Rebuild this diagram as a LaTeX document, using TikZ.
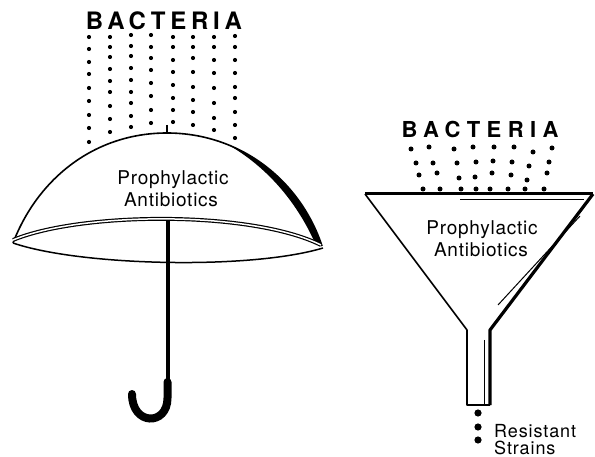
\documentclass[tikz,border=0pt]{standalone}
\usepackage{fontspec}
\setmainfont{TeX Gyre Heros}
\newfontfamily\headfontA[LetterSpace=20]{TeX Gyre Heros}
\newfontfamily\headfontB[LetterSpace=29]{TeX Gyre Heros}
\newfontfamily\labelfont[LetterSpace=4]{TeX Gyre Heros}
\newfontfamily\notefont[LetterSpace=5]{TeX Gyre Heros}
\begin{document}
\begin{tikzpicture}[x=1pt,y=-1pt,
  headA/.style={inner sep=0pt,anchor=base,font=\headfontA\bfseries\fontsize{24}{24}\selectfont},
  headB/.style={inner sep=0pt,anchor=base,font=\headfontB\bfseries\fontsize{22}{22}\selectfont},
  lbl/.style={inner sep=0pt,anchor=base,font=\labelfont\fontsize{19}{19}\selectfont},
  lblsmall/.style={inner sep=0pt,anchor=base west,font=\notefont\fontsize{18}{18}\selectfont},
  thick/.style={line width=3pt},
  germ/.style={fill=black}]
\useasboundingbox (0,0) rectangle (595,457);

% ---------------- umbrella ----------------
\node[headA] (bactL) at (164,30) {BACTERIA};
% falling bacteria
\foreach \x/\ys in {89/{37,49,62,74,88,101,115,128,142},
                    110/{37,47,57,69,81,92,106,119,132},
                    131/{35,46,56,68,80,92,103,116,127},
                    151/{35,47,58,70,83,96,110,123},
                    173/{37,47,60,72,85,98,110,122},
                    193/{37,47,58,72,87,100,112,125},
                    214/{37,47,60,73,88,103,118,130},
                    235/{36,47,60,73,87,98,112,125,138}}
  \foreach \y in \ys \fill[germ] (\x,\y) circle (2.1);

% canopy
\coordinate (rimL) at (13,243);
\coordinate (rimR) at (322,246);
\coordinate (tip) at (167,133);
\draw[line width=1.6pt] (rimL) .. controls (38,178) and (95,133) .. (tip)
  .. controls (240,133) and (300,180) .. (rimR);
% heavy shaded edge on the right of the canopy
\fill (228.5,144.9) .. controls (272.6,162.9) and (306.6,199.8) .. (322,246)
  -- (315,243) .. controls (298,205) and (270,169) .. (228.5,144.9) -- cycle;
% rim
\draw[line width=1.2pt,double=white,double distance=1.5pt]
  (13,240) .. controls (80,212) and (250,210) .. (321,245);
\draw[line width=1.5pt] (rimL) .. controls (80,266) and (250,270) .. (323,248);
% knob
\draw[line width=2pt] (167,125) -- (tip);
% shaft and handle
\coordinate (shaftTop) at (168,220);
\coordinate (shaftBot) at (168,386);
\draw[line width=4.8pt] (shaftTop) -- (shaftBot);
\draw[line width=8pt,line cap=round] (167.5,382) -- (167.5,398)
  .. controls (167.5,426) and (132,426) .. (132,394);

\node[lbl] (proL1) at (173,185) {Prophylactic};
\node[lbl] (proL2) at (171,207) {Antibiotics};

% ---------------- funnel ----------------
\node[headB] (bactR) at (480,138) {BACTERIA};
\foreach \x/\y in {411/149,429/147,454/149,473/147,494/147,514/147,533/152,552/148,
                   416/163,433/163,457/163,476/162,493/161,512/162,529/166,549/162,
                   419/175,437/173,459/178,475/177,492/173,511/175,527/180,547/173,
                   423/189,440/189,461/189,476/189,490/189,508/189,525/189,544/189}
  \fill[germ] (\x,\y) circle (2.5);

\coordinate (fTL) at (365,194);
\coordinate (fTR) at (593,194);
\coordinate (fBL) at (467,330);
\coordinate (fBR) at (490,330);
\coordinate (sBL) at (467,405);
\coordinate (sBR) at (490,405);
\draw[thick] (fTL) -- (fTR);
\draw[line width=1pt] (460,199.5) -- (584,199.5);
\draw[line width=1.6pt,line join=round] (fTL) -- (fBL) -- (sBL) -- (sBR);
\draw[line width=3.2pt,line join=round] (fTR) -- (fBR) -- (sBR);
\draw[line width=1pt] (580,216) -- (498,305);
\draw[line width=1pt] (484,340) -- (484,405);

\node[lbl] (proR1) at (482,235) {Prophylactic};
\node[lbl] (proR2) at (481,257) {Antibiotics};

\fill[germ] (478,413) circle (3.6);
\fill[germ] (478,427) circle (3.6);
\fill[germ] (478,440) circle (3.6);
\node[lblsmall] (res1) at (494,437) {Resistant};
\node[lblsmall] (res2) at (494,454) {Strains};
\end{tikzpicture}
\end{document}
